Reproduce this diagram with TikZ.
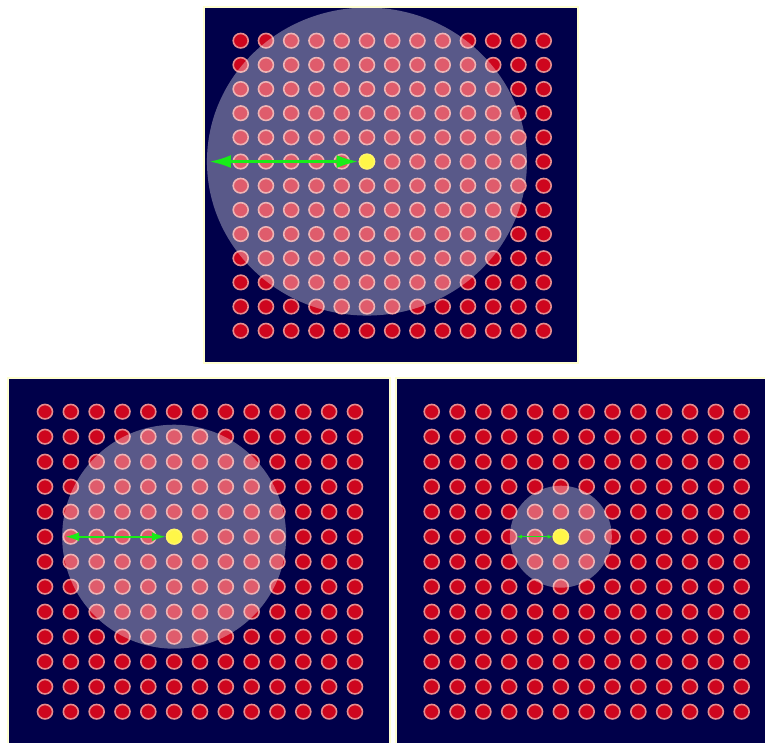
\documentclass[tikz,border=0pt]{standalone}
\usetikzlibrary{arrows.meta,shapes.geometric}
\definecolor{navy}{RGB}{0,0,74}
\definecolor{cream}{RGB}{255,255,208}
\definecolor{dotred}{RGB}{206,6,30}
\definecolor{dotrim}{RGB}{230,140,142}
\definecolor{hityellow}{RGB}{255,246,72}
\definecolor{raygreen}{RGB}{24,236,24}

\begin{document}
\begin{tikzpicture}[
  x=1pt, y=-1pt,
  panel/.style={draw=cream, line width=2.2pt, fill=navy},
  dot/.style={ellipse, draw=dotrim, fill=dotred, line width=1.6pt, inner sep=0pt,
    minimum width=15pt, minimum height=14.5pt},
  focus/.style={dot, draw=hityellow!85!white, fill=hityellow},
  reach/.style={fill=white, fill opacity=0.35},
  bigray/.style={draw=raygreen, line width=3.2pt, {Latex[length=22pt, width=13pt]}-{Latex[length=22pt, width=13pt]}},
  midray/.style={draw=raygreen, line width=2pt, {Latex[length=14pt, width=9pt]}-{Latex[length=14pt, width=9pt]}},
  smallray/.style={draw=raygreen, line width=1.2pt, {Latex[length=5pt, width=4pt]}-{Latex[length=5pt, width=4pt]}},
]
\clip (0,0) rectangle (765,743);
\fill[white] (0,0) rectangle (765,743);

% widest reach
\draw[panel] (204,7) rectangle (578,363);
\foreach \i in {0,...,12}
  \foreach \j in {0,...,12}
    \node[dot] (t-\i-\j) at (240.7+25.25*\i, 40.7+24.17*\j) {};
\fill[reach] (t-5-5) ellipse [x radius=160pt, y radius=154pt];
\node[focus] (ty) at (t-5-5) {};
\path (ty) ++(-158,0) coordinate (te);
\draw[bigray] (te) -- (ty);

% middle reach
\draw[panel] (8,378) rectangle (390,760);
\foreach \i in {0,...,12}
  \foreach \j in {0,...,12}
    \node[dot] (l-\i-\j) at (45+25.83*\i, 411.7+25*\j) {};
\fill[reach] (l-5-5) ellipse [x radius=112pt, y radius=112pt];
\node[focus] (ly) at (l-5-5) {};
\path (ly) ++(-109,0) coordinate (le);
\draw[midray] (le) -- (ly);

% small reach
\draw[panel] (396,378) rectangle (780,760);
\foreach \i in {0,...,12}
  \foreach \j in {0,...,12}
    \node[dot] (r-\i-\j) at (431.7+25.83*\i, 411.7+25*\j) {};
\fill[reach] (r-5-5) ellipse [x radius=51pt, y radius=51pt];
\node[focus] (ry) at (r-5-5) {};
\path (ry) ++(-44,0) coordinate (re);
\draw[smallray] (re) -- (ry);
\end{tikzpicture}
\end{document}
